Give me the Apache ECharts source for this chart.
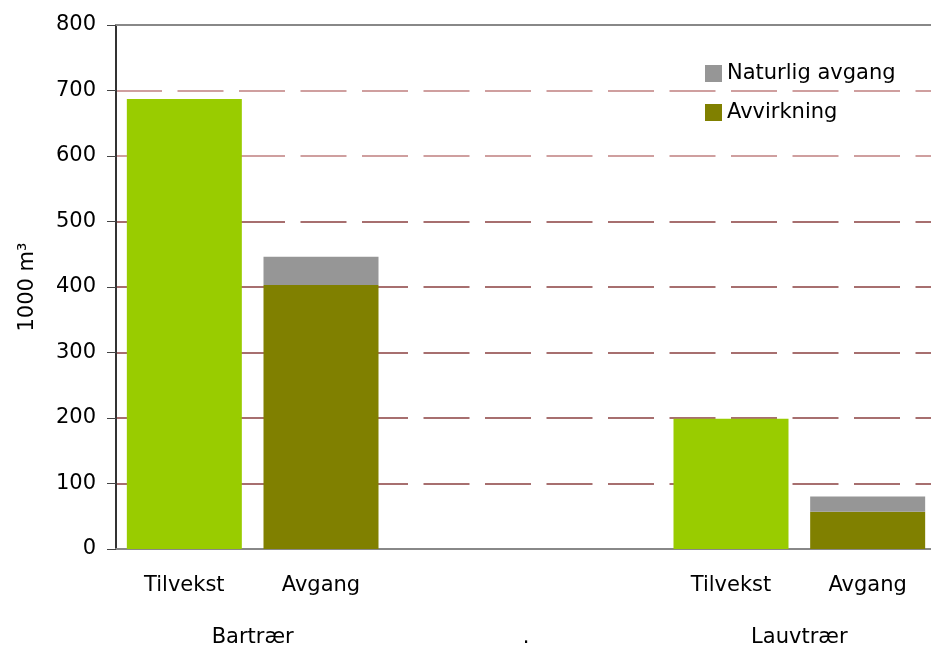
<!DOCTYPE html>
<html>
<head>
<meta charset="utf-8">
<title>Tilvekst og avgang</title>
<script src="https://cdn.jsdelivr.net/npm/echarts@6/dist/echarts.min.js"></script>
<style>
  html, body { margin: 0; padding: 0; background: #fff; }
  #main { width: 931px; height: 650px; }
</style>
</head>
<body>
<div id="main"></div>
<script>
// kategorier (6 plasser, to tomme i midten)
var categories = ['Tilvekst', 'Avgang', '', '', 'Tilvekst', 'Avgang'];
var groups = ['Bartrær', '.', 'Lauvtrær'];
var tilvekst = [687, '-', '-', '-', 199, '-'];
var avvirkning = ['-', 403, '-', '-', '-', 57];
var naturligAvgang = ['-', 43, '-', '-', '-', 23];
var yTicks = [0, 100, 200, 300, 400, 500, 600, 700, 800];

var font = 'DejaVu Sans';
var chart = echarts.init(document.getElementById('main'));

chart.setOption({
    backgroundColor: '#fff',
    textStyle: { fontFamily: font },
    // plottet går litt forbi høyre kant av bildet
    grid: { left: 116, width: 820, top: 25, height: 524, outerBoundsMode: 'none' },
    legend: {
        orient: 'vertical',
        left: 705,
        top: 63,
        padding: 0,
        itemWidth: 17,
        itemHeight: 17,
        itemGap: 18,
        icon: 'rect',
        data: ['Naturlig avgang', 'Avvirkning'],
        textStyle: { color: '#000', fontSize: 21, fontFamily: font }
    },
    xAxis: [{
        type: 'category',
        data: categories,
        axisLine: { lineStyle: { color: '#888', width: 2 } },
        axisTick: { show: false },
        axisLabel: { color: '#000', fontSize: 21, fontFamily: font, margin: 26, interval: 0 }
    }, {
        type: 'category',
        data: groups,
        position: 'bottom',
        axisLine: { show: false },
        axisTick: { show: false },
        axisLabel: { color: '#000', fontSize: 21, fontFamily: font, margin: 78, interval: 0 }
    }, {
        // toppkant
        type: 'category',
        data: categories,
        position: 'top',
        axisLine: { lineStyle: { color: '#888', width: 2 } },
        axisTick: { show: false },
        axisLabel: { show: false }
    }],
    yAxis: {
        type: 'value',
        min: yTicks[0],
        max: yTicks[yTicks.length - 1],
        interval: 100,
        name: '1000 m³',
        nameLocation: 'middle',
        nameGap: 78,
        nameTextStyle: { color: '#000', fontSize: 21, fontFamily: font },
        axisLine: { show: true, lineStyle: { color: '#333', width: 2 } },
        axisTick: { show: true, length: 9, lineStyle: { color: '#444' } },
        axisLabel: { color: '#000', fontSize: 21, fontFamily: font, margin: 20 },
        splitLine: {
            show: true,
            showMinLine: false,
            showMaxLine: false,
            lineStyle: {
                color: ['#8a4040', '#8a4040', '#8a4040', '#8a4040', '#8a4040', '#c08080', '#c08080', '#c08080'],
                width: 1.5,
                type: [46, 15.5]
            }
        }
    },
    series: [{
        name: 'Tilvekst',
        type: 'bar',
        stack: 'a',
        barWidth: 115,
        data: tilvekst,
        itemStyle: { color: '#99cc00' }
    }, {
        name: 'Avvirkning',
        type: 'bar',
        stack: 'a',
        barWidth: 115,
        data: avvirkning,
        itemStyle: { color: '#808000' }
    }, {
        name: 'Naturlig avgang',
        type: 'bar',
        stack: 'a',
        barWidth: 115,
        data: naturligAvgang,
        itemStyle: { color: '#969696' }
    }]
});
</script>
</body>
</html>
